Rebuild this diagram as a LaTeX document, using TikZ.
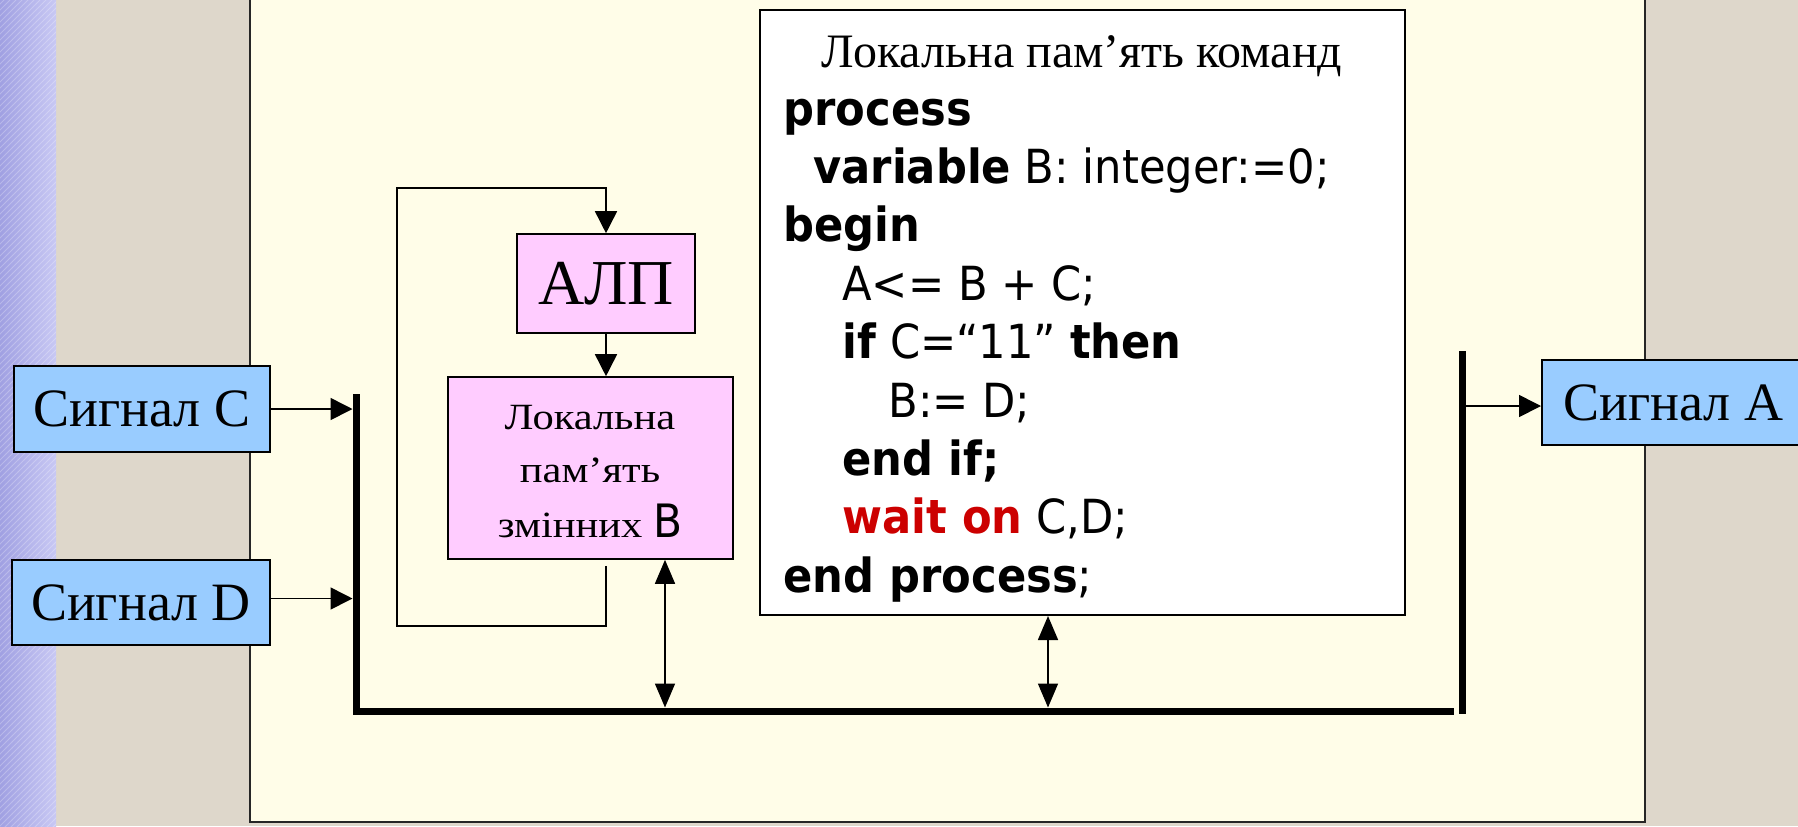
\documentclass[tikz,border=0pt]{standalone}
\usepackage{fontspec}
\setmainfont{Liberation Serif}
\newfontfamily\codefont{DejaVu Sans}[FakeStretch=0.92]
\newfontfamily\wideserif{Liberation Serif}[FakeStretch=1.15]
\usetikzlibrary{arrows.meta,patterns}

\definecolor{slidebeige}{RGB}{222,215,203}
\definecolor{stripdark}{RGB}{160,160,226}
\definecolor{striplight}{RGB}{200,200,244}
\definecolor{panelcream}{RGB}{255,253,232}
\definecolor{signalblue}{RGB}{153,204,255}
\definecolor{unitpink}{RGB}{255,204,255}
\definecolor{keyred}{RGB}{204,0,0}

\tikzset{
  sigbox/.style={draw=black, line width=1pt, fill=signalblue, inner sep=0pt,
    font=\fontsize{27}{32}\selectfont},
  unitbox/.style={draw=black, line width=0.8pt, fill=unitpink, inner sep=0pt},
  codebox/.style={draw=black, line width=1pt, fill=white, inner sep=0pt},
  conn/.style={draw, line width=0.8pt, -{Triangle[length=11pt,width=11pt]}},
  dconn/.style={draw, line width=0.8pt,
    {Triangle[length=12pt,width=10pt]}-{Triangle[length=12pt,width=10pt]}},
  bus/.style={draw, line width=3.5pt},
  codeline/.style={anchor=base west, inner sep=0pt,
    font=\codefont\fontsize{23.5}{29}\selectfont},
  memline/.style={anchor=base, inner sep=0pt,
    font=\wideserif\fontsize{18.5}{27}\selectfont},
}

\begin{document}
\begin{tikzpicture}[x=0.5pt,y=-0.5pt]
\useasboundingbox (0,0) rectangle (1798,826);
\clip (0,0) rectangle (1798,826);

% slide background
\fill[slidebeige] (0,0) rectangle (1798,826);
\shade[left color=stripdark, right color=striplight] (0,0) rectangle (56,826);
\fill[pattern=north east lines, pattern color=white, opacity=0.25] (0,0) rectangle (56,826);

% content panel
\draw[black!85, line width=1.2pt, fill=panelcream] (250,-10) rectangle (1645,822);

% input and output signals
\node[sigbox, minimum width=128pt, minimum height=43pt] (sc) at (142,409) {Сигнал C};
\node[sigbox, minimum width=129pt, minimum height=42.5pt] (sd) at (141,602.5) {Сигнал D};
\node[sigbox, minimum width=131.5pt, minimum height=42.5pt] (sa) at (1673.5,402.5) {Сигнал A};

% ALU and variable memory
\node[unitbox, minimum width=89pt, minimum height=49.5pt,
      font=\fontsize{32}{38}\selectfont] (alu) at (606,283.5) {АЛП};
\node[unitbox, minimum width=142.5pt, minimum height=91pt] (mem) at (590.5,468) {};
\node[memline] (mem1) at (590,429) {Локальна};
\node[memline] (mem2) at (590,482) {пам’ять};
\node[memline] (mem3) at (590,537) {змінних {\codefont\fontsize{23}{26}\selectfont B}};

% instruction memory with the process text
\node[codebox, minimum width=322.5pt, minimum height=302.5pt] (code) at (1082.5,312.5) {};
\node[anchor=base, inner sep=0pt, font=\fontsize{24}{29}\selectfont] (ctitle) at (1082,67)
  {Локальна пам’ять команд};
\node[codeline] (l1) at (783,125) {\textbf{process}};
\node[codeline] (l2) at (813,183.4) {\textbf{variable} B: integer:=0;};
\node[codeline] (l3) at (783,241.8) {\textbf{begin}};
\node[codeline] (l4) at (842,300.2) {A<= B + C;};
\node[codeline] (l5) at (842,358.6) {\textbf{if} C=“11” \textbf{then}};
\node[codeline] (l6) at (888,417) {B:= D;};
\node[codeline] (l7) at (842,475.4) {\textbf{end if;}};
\node[codeline] (l8) at (842,533.8) {\textcolor{keyred}{\textbf{wait on}} C,D;};
\node[codeline] (l9) at (783,592.2) {\textbf{end process};};

% buses
\coordinate (busL) at (352.5,711);
\coordinate (busR) at (1465.5,406);
\draw[bus] (356,394) -- (356,711) -- (1454,711);
\draw[bus] (1462,351) -- (1462,714);

% signal connections
\draw[conn] (sc.east) -- (sc.east -| busL);
\coordinate (dOut) at ([yshift=2pt]sd.east);
\draw[conn] (dOut) -- (dOut -| busL);
\coordinate (aIn) at ([yshift=-1.75pt]sa.west);
\draw[conn] (aIn -| busR) -- (aIn);

% ALU loop
\draw[conn] (alu.south) -- (alu.south |- mem.north);
\coordinate (loopStart) at ([yshift=-3pt]mem.south -| alu.south);
\draw[conn] (loopStart) -- ++(0,60) -| (397,188) -| (alu.north);

% memory to bus links
\coordinate (memBus) at (665,707.5);
\coordinate (codeBus) at (1048,707.5);
\draw[dconn] (memBus |- mem.south) -- (memBus);
\draw[dconn] (codeBus |- code.south) -- (codeBus);
\end{tikzpicture}
\end{document}
